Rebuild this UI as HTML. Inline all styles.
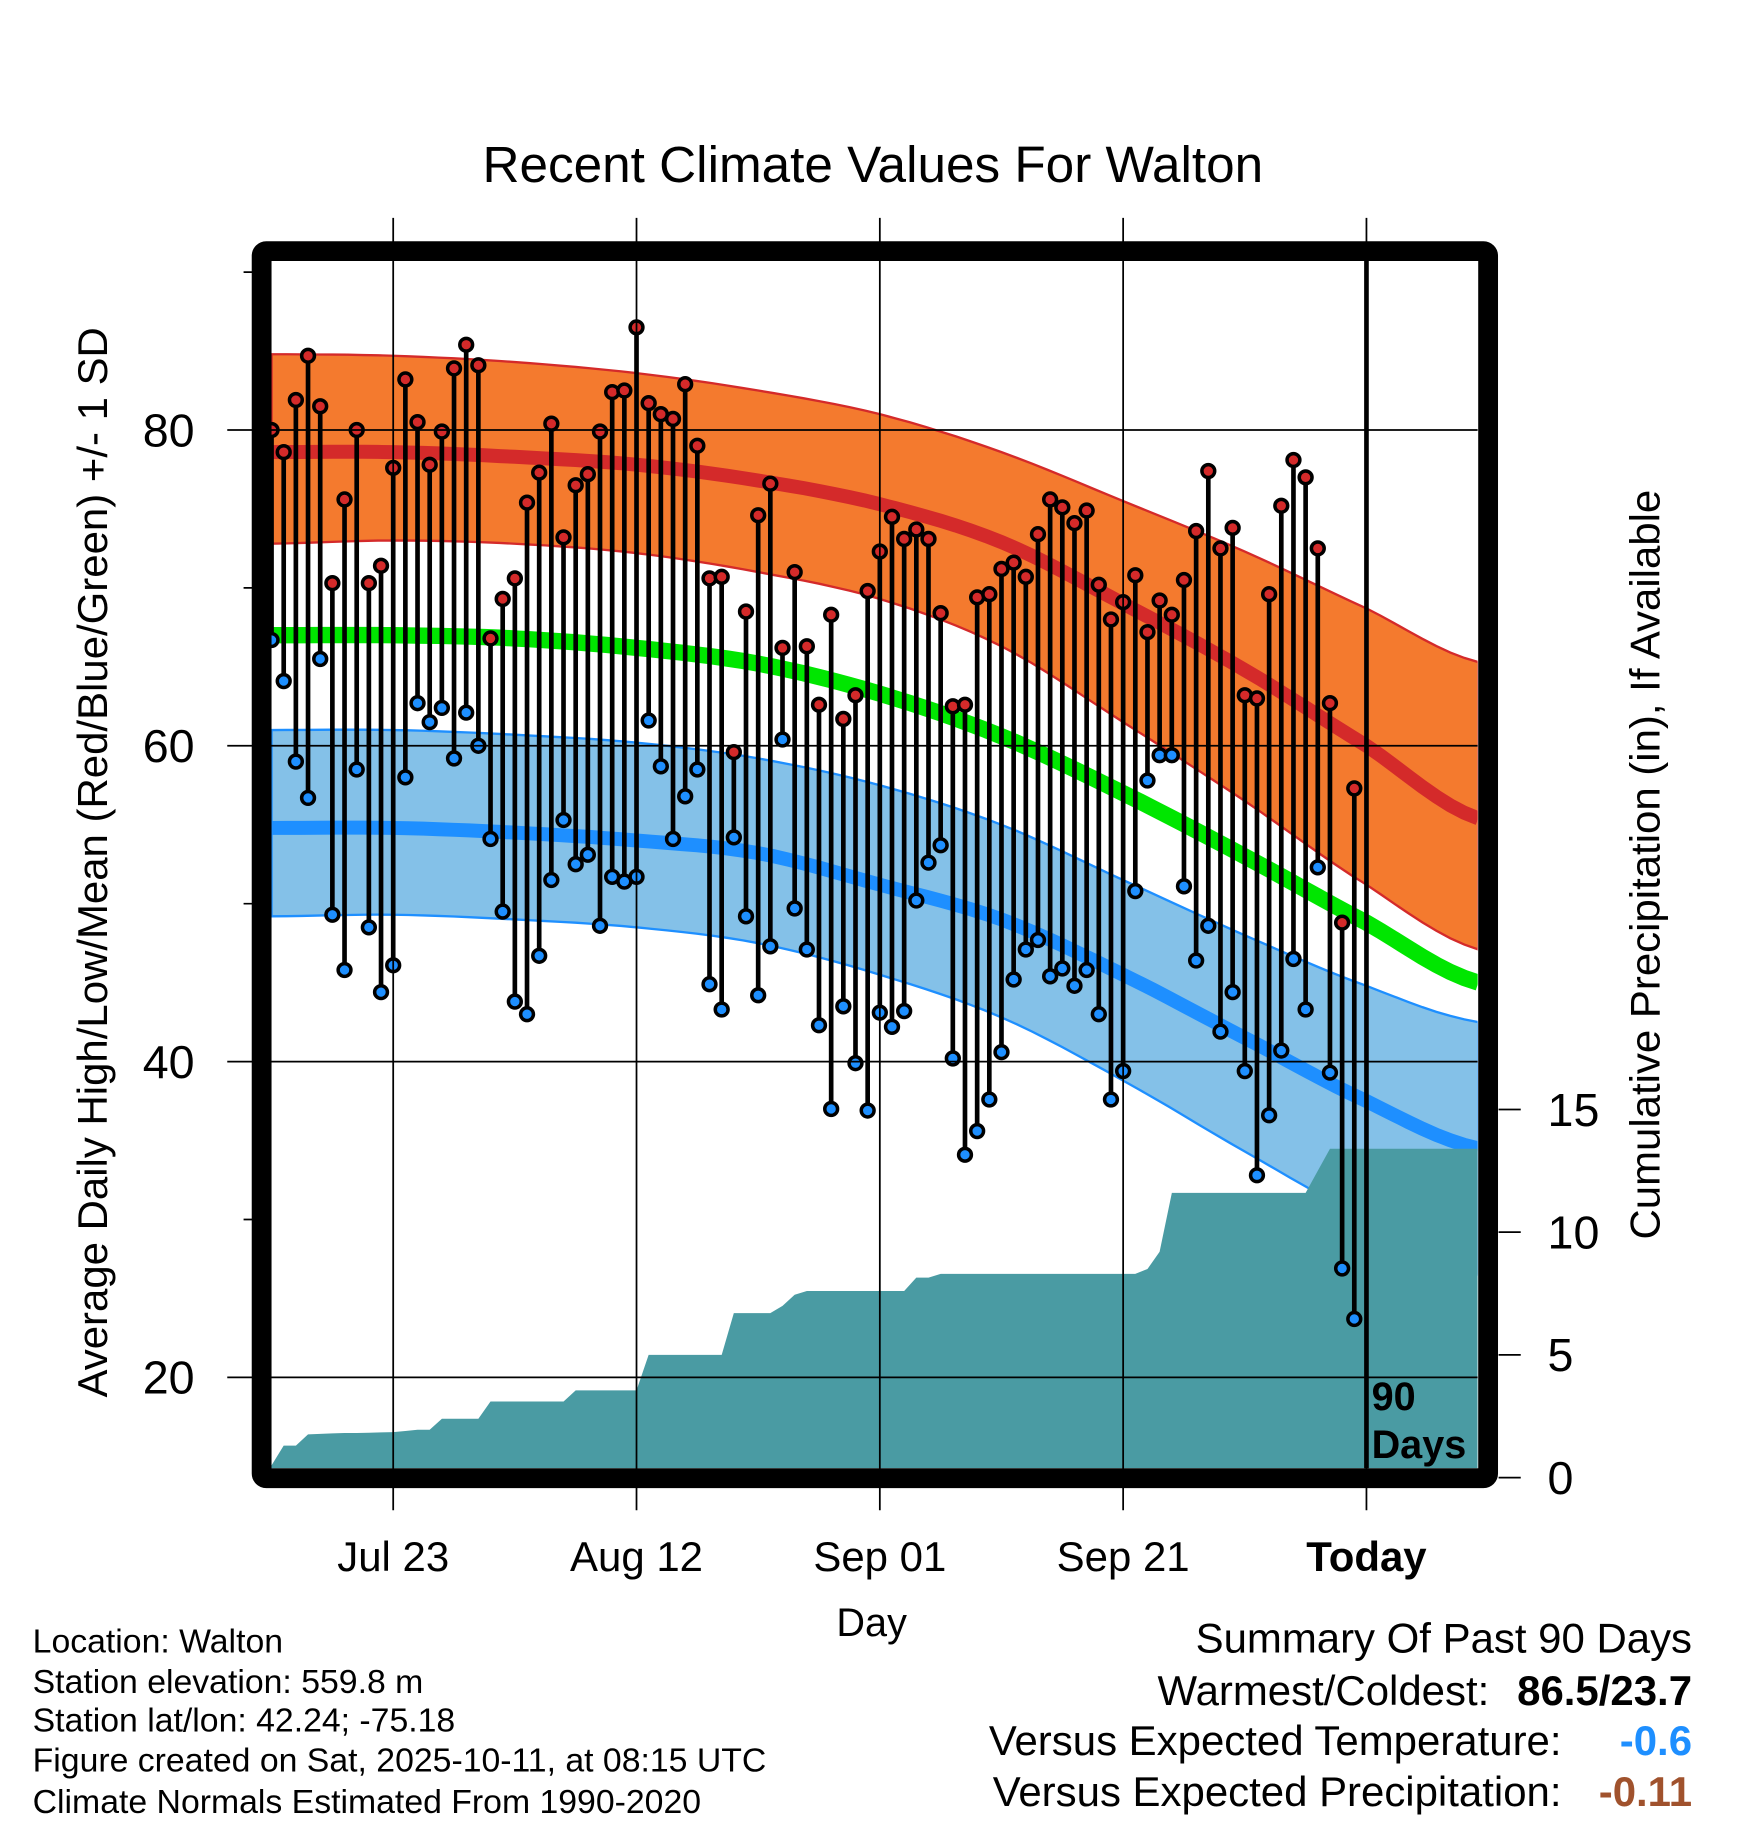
<!DOCTYPE html>
<html><head><meta charset="utf-8"><style>
html,body{margin:0;padding:0;background:#fff;}
svg{display:block;font-family:"Liberation Sans",Arial,sans-serif;}
</style></head><body>
<svg id="chart" width="1748" height="1828" viewBox="0 0 1500 1568.7" xmlns="http://www.w3.org/2000/svg">
<text x="749" y="156" font-size="44" text-anchor="middle">Recent Climate Values For Walton</text>
<g id="plot"></g>
<text transform="translate(92,740) rotate(-90)" font-size="36" text-anchor="middle">Average Daily High/Low/Mean (Red/Blue/Green) +/- 1 SD</text>
<text transform="translate(1424,742) rotate(-90)" font-size="36" text-anchor="middle">Cumulative Precipitation (in), If Available</text>
<text x="748" y="1404" font-size="34" text-anchor="middle">Day</text>
<g font-size="29">
<text x="28" y="1418">Location: Walton</text>
<text x="28" y="1453">Station elevation: 559.8 m</text>
<text x="28" y="1486">Station lat/lon: 42.24; -75.18</text>
<text x="28" y="1520">Figure created on Sat, 2025-10-11, at 08:15 UTC</text>
<text x="28" y="1556">Climate Normals Estimated From 1990-2020</text>
</g>
<g font-size="36">
<text x="1452" y="1418" text-anchor="end">Summary Of Past 90 Days</text>
<text x="1278" y="1463" text-anchor="end">Warmest/Coldest:</text>
<text x="1452" y="1463" text-anchor="end" font-weight="bold">86.5/23.7</text>
<text x="1340" y="1506" text-anchor="end">Versus Expected Temperature:</text>
<text x="1452" y="1506" text-anchor="end" font-weight="bold" fill="#1e8fff">-0.6</text>
<text x="1340" y="1550" text-anchor="end">Versus Expected Precipitation:</text>
<text x="1452" y="1550" text-anchor="end" font-weight="bold" fill="#a0522d">-0.11</text>
</g>
</svg>
<script>
// normals sampled every 10 days (day 0 .. 90) plus end at day 99.2
const normDays = [0,10,20,30,40,50,60,70,80,90,99.2];
const highUpper = [84.8,84.7,84.3,83.6,82.5,81.0,78.6,75.5,72.3,68.7,65.3];
const highMean  = [78.6,78.6,78.3,77.8,76.8,75.3,72.9,69.0,64.8,60.0,55.4];
const highLower = [72.8,73.0,72.8,72.2,71.0,69.3,66.3,61.5,56.5,51.2,47.1];
const avgMean   = [67.0,67.0,66.8,66.2,65.2,63.3,60.6,57.0,53.0,48.8,45.0];
const lowUpper  = [61.0,61.0,60.7,60.2,59.2,57.5,55.0,51.5,48.0,44.8,42.5];
const lowMean   = [54.8,54.8,54.5,54.0,53.2,51.2,49.0,45.5,41.5,37.5,34.5];
const lowLower  = [49.2,49.3,49.0,48.5,47.5,45.5,42.8,38.8,34.3,30.0,26.5];
const highs = [80.0,78.6,81.9,84.7,81.5,70.3,75.6,80.0,70.3,71.4,77.6,83.2,80.5,77.8,79.9,83.9,85.4,84.1,66.8,69.3,70.6,75.4,77.3,80.4,73.2,76.5,77.2,79.9,82.4,82.5,86.5,81.7,81.0,80.7,82.9,79.0,70.6,70.7,59.6,68.5,74.6,76.6,66.2,71.0,66.3,62.6,68.3,61.7,63.2,69.8,72.3,74.5,73.1,73.7,73.1,68.4,62.5,62.6,69.4,69.6,71.2,71.6,70.7,73.4,75.6,75.1,74.1,74.9,70.2,68.0,69.1,70.8,67.2,69.2,68.3,70.5,73.6,77.4,72.5,73.8,63.2,63.0,69.6,75.2,78.1,77.0,72.5,62.7,48.8,57.3];
const lows = [66.7,64.1,59.0,56.7,65.5,49.3,45.8,58.5,48.5,44.4,46.1,58.0,62.7,61.5,62.4,59.2,62.1,60.0,54.1,49.5,43.8,43.0,46.7,51.5,55.3,52.5,53.1,48.6,51.7,51.4,51.7,61.6,58.7,54.1,56.8,58.5,44.9,43.3,54.2,49.2,44.2,47.3,60.4,49.7,47.1,42.3,37.0,43.5,39.9,36.9,43.1,42.2,43.2,50.2,52.6,53.7,40.2,34.1,35.6,37.6,40.6,45.2,47.1,47.7,45.4,45.9,44.8,45.8,43.0,37.6,39.4,50.8,57.8,59.4,59.4,51.1,46.4,48.6,41.9,44.4,39.4,32.8,36.6,40.7,46.5,43.3,52.3,39.3,26.9,23.7];
const precip = [0.5,1.3,1.3,1.76,1.78,1.8,1.82,1.82,1.83,1.84,1.85,1.9,1.95,1.95,2.4,2.4,2.4,2.4,3.1,3.1,3.1,3.1,3.1,3.1,3.1,3.55,3.55,3.55,3.55,3.55,3.55,5.0,5.0,5.0,5.0,5.0,5.0,5.0,6.7,6.7,6.7,6.7,7.0,7.45,7.6,7.6,7.6,7.6,7.6,7.6,7.6,7.6,7.6,8.15,8.15,8.3,8.3,8.3,8.3,8.3,8.3,8.3,8.3,8.3,8.3,8.3,8.3,8.3,8.3,8.3,8.3,8.3,8.5,9.2,11.6,11.6,11.6,11.6,11.6,11.6,11.6,11.6,11.6,11.6,11.6,11.6,12.5,13.4,13.4,13.4];
const tempTicks = [20,40,60,80];
const minorTicks = [30,50,70,90];
const precipTicks = [0,5,10,15];
const dayTicks = [10,30,50,70,90];
const dayLabels = ["Jul 23","Aug 12","Sep 01","Sep 21","Today"];

const X0=232, X1=1268, Y0=224, Y1=1260;
const xd = d => 233 + d*10.44;
const yt = t => 369 + (80-t)*13.55;
const yp = p => 1268 - p*21.06;
const NS="http://www.w3.org/2000/svg";
const plot=document.getElementById('plot');
function mk(tag,attrs,parent){const e=document.createElementNS(NS,tag);for(const k in attrs)e.setAttribute(k,attrs[k]);(parent||plot).appendChild(e);return e;}
// smooth (linear interpolation of monotone cubic via Catmull-Rom) sampled points
function smooth(days,vals){
  const out=[];
  for(let i=0;i<days.length-1;i++){
    const p0=vals[Math.max(0,i-1)],p1=vals[i],p2=vals[i+1],p3=vals[Math.min(vals.length-1,i+2)];
    for(let s=0;s<8;s++){
      const t=s/8;
      const v=0.5*((2*p1)+(-p0+p2)*t+(2*p0-5*p1+4*p2-p3)*t*t+(-p0+3*p1-3*p2+p3)*t*t*t);
      const d=days[i]+(days[i+1]-days[i])*t;
      out.push(xd(d).toFixed(1)+','+yt(v).toFixed(1));
    }
  }
  out.push(xd(days[days.length-1]).toFixed(1)+','+yt(vals[vals.length-1]).toFixed(1));
  return out;
}

const clip=mk('clipPath',{id:'pc'});mk('rect',{x:X0,y:Y0,width:X1-X0,height:Y1-Y0},clip);
const g=mk('g',{'clip-path':'url(#pc)'});



let e;
e=mk('polygon',{points:smooth(normDays,highUpper).concat(smooth(normDays,highLower).reverse()).join(' '),fill:'#f47a2e',stroke:'#d42a2a','stroke-width':2},g);


e=mk('polygon',{points:smooth(normDays,lowUpper).concat(smooth(normDays,lowLower).reverse()).join(' '),fill:'#84c1e8',stroke:'#1e8fff','stroke-width':2},g);


e=mk('polyline',{points:smooth(normDays,highMean).join(' '),fill:'none',stroke:'#d42a2a','stroke-width':12},g);


e=mk('polyline',{points:smooth(normDays,avgMean).join(' '),fill:'none',stroke:'#00e600','stroke-width':14},g);


e=mk('polyline',{points:smooth(normDays,lowMean).join(' '),fill:'none',stroke:'#1e8fff','stroke-width':12},g);



// precip area
let pp=precip.map((p,i)=>xd(i).toFixed(1)+','+yp(p).toFixed(1));
pp.push(X1+','+yp(precip[precip.length-1]).toFixed(1));
pp.push(X1+','+Y1);pp.push(xd(0)+','+Y1);
e=mk('polygon',{points:pp.join(' '),fill:'#4a9ba3'},g);



// gridlines
tempTicks.forEach(t=>{
  const l=mk('line',{x1:195,x2:X1,y1:yt(t),y2:yt(t),stroke:'#000','stroke-width':1.5});
  
  
  const tx=mk('text',{x:167,y:yt(t)+14,'font-size':40,'text-anchor':'end'});
  
  
  tx.textContent=t;
});
minorTicks.forEach(t=>{
  const l=mk('line',{x1:209,x2:X0,y1:yt(t),y2:yt(t),stroke:'#000','stroke-width':1.5});
  
  
});
dayTicks.forEach((d,i)=>{
  const l=mk('line',{x1:xd(d),x2:xd(d),y1:187,y2:1296,stroke:'#000','stroke-width':1.5});
  
  
  const tx=mk('text',{x:xd(d),y:1348,'font-size':36,'text-anchor':'middle','font-weight':dayLabels[i]==='Today'?'bold':'normal'});
  
  
  tx.textContent=dayLabels[i];
});
precipTicks.forEach(p=>{
  const l=mk('line',{x1:1286,x2:1305,y1:yp(p),y2:yp(p),stroke:'#000','stroke-width':1.5});
  
  
  const tx=mk('text',{x:1328,y:yp(p)+14,'font-size':40});
  
  
  tx.textContent=p;
});

// stems
highs.forEach((h,i)=>{
  const x=xd(i);
  const s=mk('line',{x1:x,x2:x,y1:yt(h),y2:yt(lows[i]),stroke:'#000','stroke-width':4},g);
  
  
});
highs.forEach((h,i)=>{
  const x=xd(i);
  const c1=mk('circle',{cx:x,cy:yt(h),r:5.5,fill:'#d42a2a',stroke:'#000','stroke-width':3},g);
  
  
  const c2=mk('circle',{cx:x,cy:yt(lows[i]),r:5.5,fill:'#1e8fff',stroke:'#000','stroke-width':3},g);
  
  
});

e=mk('line',{x1:xd(90),x2:xd(90),y1:Y0,y2:Y1,stroke:'#000','stroke-width':4});


e=mk('text',{x:1177,y:1210,'font-size':34,'font-weight':'bold'});


e.textContent='90';
e=mk('text',{x:1177,y:1251,'font-size':34,'font-weight':'bold'});


e.textContent='Days';

e=mk('rect',{x:224.5,y:215.5,width:1052.5,height:1053,fill:'none',stroke:'#000','stroke-width':17,rx:4});


</script>
</body></html>
